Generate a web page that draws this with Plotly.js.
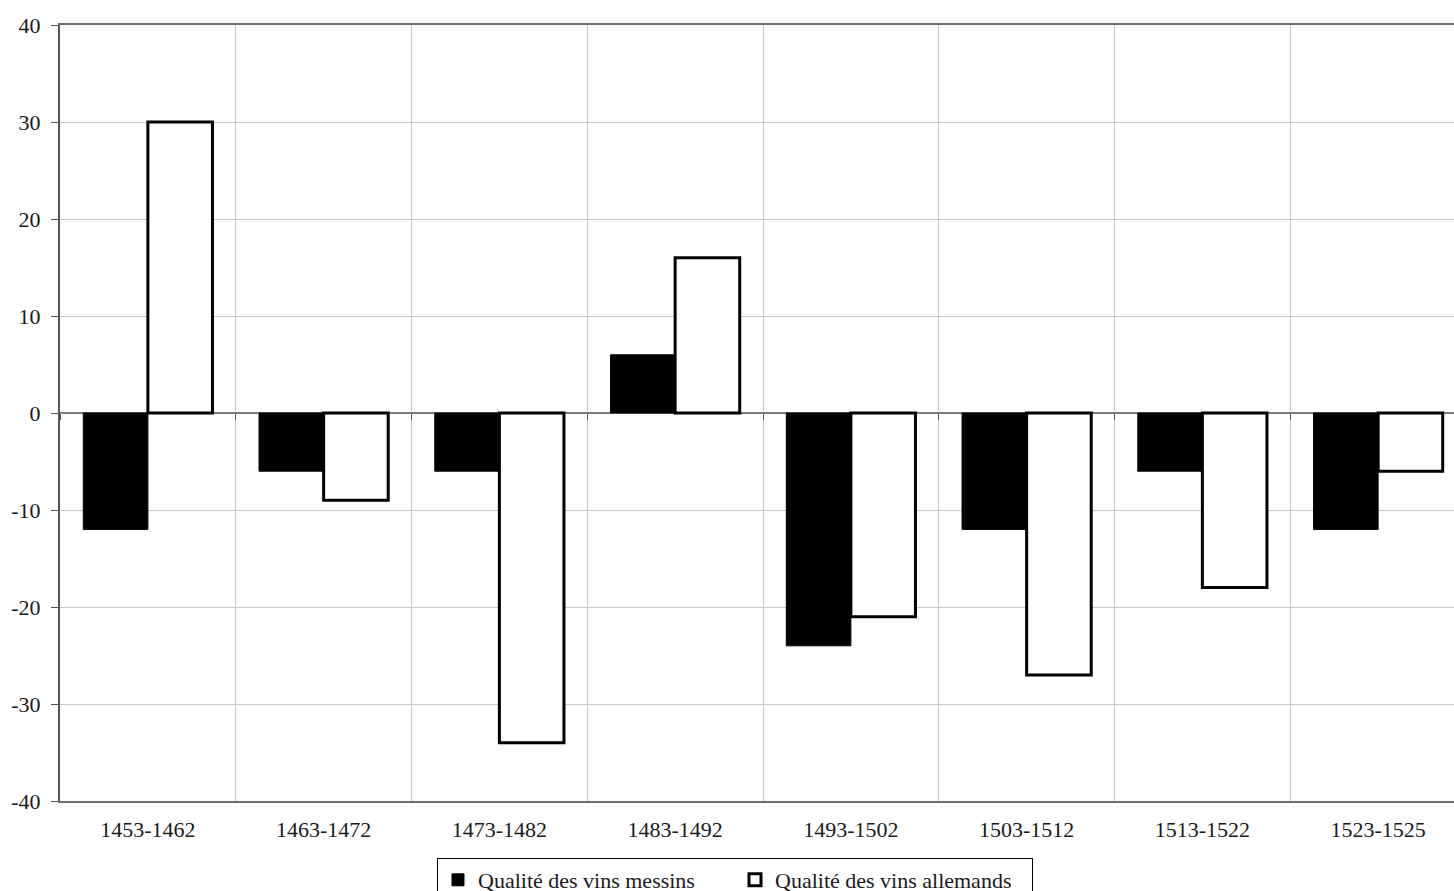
<!DOCTYPE html>
<html>
<head>
<meta charset="utf-8">
<script src="https://cdn.plot.ly/plotly-3.0.1.min.js"></script>
<style>
html,body{margin:0;padding:0;overflow:hidden;background:#fff;}
#chart{width:1466px;height:912px;}
</style>
</head>
<body>
<div id="chart"></div>
<script>
const categories = ["1453-1462","1463-1472","1473-1482","1483-1492","1493-1502","1503-1512","1513-1522","1523-1525"];
const messins = [-12, -6, -6, 6, -24, -12, -6, -12];
const allemands = [30, -9, -34, 16, -21, -27, -18, -6];
const seriesNames = ["Qualité des vins messins", "Qualité des vins allemands"];
const yTicks = [-40, -30, -20, -10, 0, 10, 20, 30, 40];

const FONT = "Liberation Serif, Times New Roman, serif";
const W = 1466, H = 912, ML = 60, MT = 25, PLOT_BOTTOM = 801;
const plotW = W - ML, plotH = PLOT_BOTTOM - MT;

const traces = [
  {
    type: "bar", x: categories, y: messins, name: seriesNames[0],
    marker: {color: "#000000", line: {color: "#000000", width: 1}}
  },
  {
    type: "bar", x: categories, y: allemands, name: seriesNames[1],
    marker: {color: "#ffffff", line: {color: "#000000", width: 3}}
  },
  {
    type: "bar", x: categories, y: categories.map(() => null), xaxis: "x2", yaxis: "y",
    showlegend: false, hoverinfo: "skip"
  }
];

const layout = {
  width: W, height: H,
  margin: {l: ML, r: 0, t: MT, b: H - PLOT_BOTTOM},
  paper_bgcolor: "#ffffff", plot_bgcolor: "#ffffff",
  font: {family: FONT, size: 22, color: "#1a1a1a"},
  barmode: "group",
  bargap: 0.265,
  bargroupgap: 0,
  showlegend: true,
  legend: {
    orientation: "h", x: (437 - ML) / plotW, xanchor: "left",
    y: -(858 - PLOT_BOTTOM) / plotH, yanchor: "top",
    bordercolor: "#000000", borderwidth: 1, bgcolor: "#ffffff",
    font: {family: FONT, size: 22, color: "#1a1a1a"},
    traceorder: "normal", itemwidth: 30, entrywidth: 252
  },
  xaxis: {
    type: "category", tickson: "boundaries", showgrid: true, gridcolor: "#c8c8c8", gridwidth: 1,
    ticks: "", showline: true, linecolor: "#6e6e6e", linewidth: 2, mirror: true,
    tickfont: {family: FONT, size: 22, color: "#1a1a1a"}, zeroline: false,
    ticklabelstandoff: 8,
    range: [-0.5, 7.5], fixedrange: true
  },
  xaxis2: {
    type: "category", overlaying: "x", anchor: "free", position: 0.5, side: "bottom",
    tickson: "boundaries", ticks: "outside", ticklen: 6, tickcolor: "#555555", tickwidth: 1,
    showticklabels: false, showgrid: false, showline: false, zeroline: false,
    range: [-0.5, 7.5], fixedrange: true
  },
  yaxis: {
    range: [-40, 40], tickvals: yTicks, ticktext: yTicks.map(String),
    showgrid: true, gridcolor: "#c8c8c8", gridwidth: 1,
    zeroline: true, zerolinecolor: "#7a7a7a", zerolinewidth: 2,
    showline: true, linecolor: "#555555", linewidth: 2,
    ticks: "outside", ticklen: 7, tickcolor: "#555555",
    tickfont: {family: FONT, size: 22, color: "#1a1a1a"},
    ticklabelstandoff: 6,
    fixedrange: true
  }
};

Plotly.newPlot("chart", traces, layout, {displayModeBar: false, staticPlot: true});
</script>
</body>
</html>
